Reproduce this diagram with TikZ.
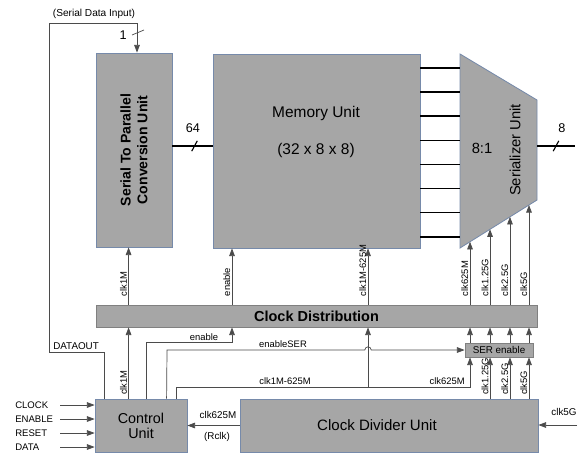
\documentclass[tikz,border=0pt]{standalone}
\usepackage{fontspec}
\setmainfont{Liberation Sans}
\usepackage{tikz}
\usetikzlibrary{positioning, arrows.meta, calc}
\definecolor{blockgray}{RGB}{166,166,166}
\definecolor{edgeblue}{RGB}{118,138,170}
\definecolor{distedge}{RGB}{128,128,128}
\definecolor{wiregray}{RGB}{75,75,75}
\tikzset{
  block/.style={rectangle, draw=edgeblue, fill=blockgray, line width=0.6pt, inner sep=0pt, align=center, font=\fontsize{10.5}{12}\selectfont},
  lbl/.style={font=\fontsize{6.7}{8}\selectfont, inner sep=1pt},
  vlbl/.style={lbl, rotate=90, anchor=south west},
  iolbl/.style={font=\fontsize{6.8}{8}\selectfont, inner sep=0pt, anchor=west},
  buslbl/.style={font=\fontsize{9}{10}\selectfont, inner sep=0pt},
  wire/.style={draw=wiregray, line width=0.5pt},
  sig/.style={wire, -{Triangle[length=1.9mm,width=1.4mm]}},
  bus/.style={line width=1.1pt, black}
}

\begin{document}
\begin{tikzpicture}
    \useasboundingbox (0,0) rectangle (14.475,-11.375);

    % 1. Bloques principales
    \node[block, minimum width=1.9cm, minimum height=4.85cm] (s2p) at (3.35,-3.75) {};
    \node[rotate=90, align=center, font=\bfseries\fontsize{10}{12}\selectfont] (s2ptext) at (s2p) {Serial To Parallel\\Conversion Unit};

    \node[block, minimum width=5.175cm, minimum height=4.85cm] (mem) at (7.9125,-3.775) {};
    \node[font=\fontsize{11}{12}\selectfont] (memtitle) at (7.9,-2.85) {Memory Unit};
    \node[font=\fontsize{11}{12}\selectfont] (memsize) at (7.9,-3.75) {(32 x 8 x 8)};

    % Serializador (trapecio)
    \coordinate (SerTL) at (11.5,-1.35);
    \coordinate (SerTR) at (13.425,-2.5);
    \coordinate (SerBR) at (13.425,-5.0);
    \coordinate (SerBL) at (11.5,-6.2);
    \draw[edgeblue, fill=blockgray, line width=0.6pt] (SerTL) -- (SerTR) -- (SerBR) -- (SerBL) -- cycle;
    \node[font=\fontsize{10.5}{12}\selectfont] (serratio) at (12.05,-3.7) {8:1};
    \node[rotate=90, font=\fontsize{10.5}{12}\selectfont] (sertext) at (12.875,-3.75) {Serializer Unit};

    \node[block, draw=distedge, minimum width=11.025cm, minimum height=0.55cm, font=\bfseries\fontsize{10.3}{12}\selectfont] (dist) at (7.9125,-7.9) {Clock Distribution};

    \node[block, minimum width=1.7cm, minimum height=0.35cm, draw=distedge, font=\fontsize{7}{8}\selectfont] (serEn) at (12.475,-8.75) {SER enable};

    \node[block, minimum width=2.3cm, minimum height=1.325cm, font=\fontsize{10.2}{10.8}\selectfont] (ctrl) at (3.525,-10.6375) {Control\\Unit};
    \node[block, minimum width=7.45cm, minimum height=1.325cm] (div) at (9.725,-10.6375) {};
    \node[font=\fontsize{10.7}{12}\selectfont] (divtext) at (9.425,-10.625) {Clock Divider Unit};

    % 2. Buses de datos
    \foreach \i in {0,...,7} {
        \coordinate (m\i) at (0,{-1.7-0.603*\i});
        \draw[bus] (mem.east |- m\i) -- (SerBL |- m\i);
    }

    \coordinate (b64) at (0,-3.65);
    \draw[bus] (s2p.east |- b64) -- (mem.west |- b64) coordinate[pos=0.55] (s64);
    \draw[bus, line width=0.8pt] (s64) +(-0.07,-0.13) -- +(0.07,0.13);
    \node[buslbl] (lbl64) at (4.82,-3.2) {64};

    \coordinate (dout) at (14.375,-3.65);
    \draw[bus] (SerBR |- dout) -- (dout) coordinate[pos=0.5] (s8);
    \draw[bus, line width=0.8pt] (s8) +(-0.07,-0.13) -- +(0.07,0.13);
    \node[buslbl] (lbl8) at (14.05,-3.2) {8};

    % 3. Lazo de datos serie (DATAOUT -> Serial Data Input)
    \coordinate (dloop) at (1.225,-8.8);
    \coordinate (sdin) at (3.425,-0.575);
    \draw[sig] ([xshift=2.5mm]ctrl.north west) |- (dloop) |- (sdin) -- (sdin |- s2p.north);
    \draw[wire] (3.3,-0.875) -- (3.6,-0.75);
    \node[buslbl] (lbl1) at (3.08,-0.875) {1};
    \node[lbl, font=\fontsize{7.2}{8}\selectfont] (sdinlbl) at (2.35,-0.35) {(Serial Data Input)};
    \node[lbl, font=\fontsize{7}{8}\selectfont, anchor=south west, inner sep=0pt] (doutlbl) at (1.325,-8.74) {DATAOUT};

    % 4. Relojes hacia los bloques
    \coordinate (c1m) at ([xshift=8.5mm]ctrl.north west);
    \draw[sig] (c1m) -- (c1m |- dist.south);
    \draw[sig] (c1m |- dist.north) -- (c1m |- s2p.south);
    \node[vlbl] (c1mup) at ($(c1m |- dist.north)+(0,0.17)$) {clk1M};
    \node[vlbl] (c1mdn) at ($(c1m)+(0,0.05)$) {clk1M};

    \coordinate (enturn) at (5.8,-8.55);
    \draw[sig] ([xshift=13mm]ctrl.north west) |- (enturn) -- (enturn |- dist.south);
    \draw[sig] (enturn |- dist.north) -- (enturn |- mem.south);
    \node[lbl] (enlbl) at (5.1,-8.43) {enable};
    \node[vlbl] (enup) at ($(enturn |- dist.north)+(0,0.17)$) {enable};

    \coordinate (clkturn) at (11.75,-9.675);
    \coordinate (clkbr) at (9.2,-9.675);
    \draw[sig] ([xshift=20.5mm]ctrl.north west) |- (clkturn) -- (clkturn |- serEn.south);
    \draw[sig] (clkbr) -- (clkbr |- dist.south);
    \draw[sig] (clkbr |- dist.north) -- (clkbr |- mem.south);
    \node[lbl] (clklbl) at (7.125,-9.53) {clk1M-625M};
    \node[lbl] (clk625lbl) at (11.18,-9.53) {clk625M};
    \node[vlbl] (clkup) at ($(clkbr |- dist.north)+(0,0.17)$) {clk1M-625M};

    % enableSER con salto sobre clk1M-625M
    \coordinate (esrturn) at (4.175,-8.75);
    \draw[sig] ([xshift=18mm]ctrl.north west) -- (esrturn) -- ($(clkbr |- esrturn)+(-0.08,0)$) arc[start angle=180, end angle=0, radius=0.08] -- (serEn.west);
    \node[lbl] (esrlbl) at (7.075,-8.6) {enableSER};

    % 5. Relojes del serializador
    \foreach \k/\t/\name in {1/0.13/clk625M, 2/0.39/clk1.25G, 3/0.649/clk2.5G, 4/0.896/clk5G} {
        \coordinate (sc\k) at ($(SerBL)!\t!(SerBR)$);
        \draw[sig] (sc\k |- dist.north) -- (sc\k);
        \draw[sig] (sc\k |- serEn.north) -- (sc\k |- dist.south);
        \node[vlbl] (scl\k) at ($(sc\k |- dist.north)+(0,0.17)$) {\name};
    }
    \foreach \k/\name in {2/clk1.25G, 3/clk2.5G, 4/clk5G} {
        \draw[sig] (sc\k |- div.north) -- (sc\k |- serEn.south);
        \node[vlbl] (dvl\k) at ($(sc\k |- div.north)+(0,0.05)$) {\name};
    }

    % 6. Entradas externas
    \foreach \sig/\yy in {CLOCK/-10.125, ENABLE/-10.475, RESET/-10.825, DATA/-11.175} {
        \node[iolbl] (in\sig) at (0.375,\yy) {\sig};
        \coordinate (src\sig) at (1.5,\yy);
        \draw[sig] (src\sig) -- (ctrl.west |- src\sig);
    }

    \draw[sig] (div.west) -- (ctrl.east);
    \node[lbl, font=\fontsize{7}{8}\selectfont] (rclk1) at (5.45,-10.375) {clk625M};
    \node[lbl, font=\fontsize{7}{8}\selectfont] (rclk2) at (5.425,-10.925) {(Rclk)};

    \coordinate (clk5gin) at (14.425,-10.625);
    \draw[sig] (clk5gin) -- (div.east |- clk5gin);
    \node[lbl, font=\fontsize{7}{8}\selectfont] (clk5glbl) at (14.1,-10.3) {clk5G};

\end{tikzpicture}
\end{document}
